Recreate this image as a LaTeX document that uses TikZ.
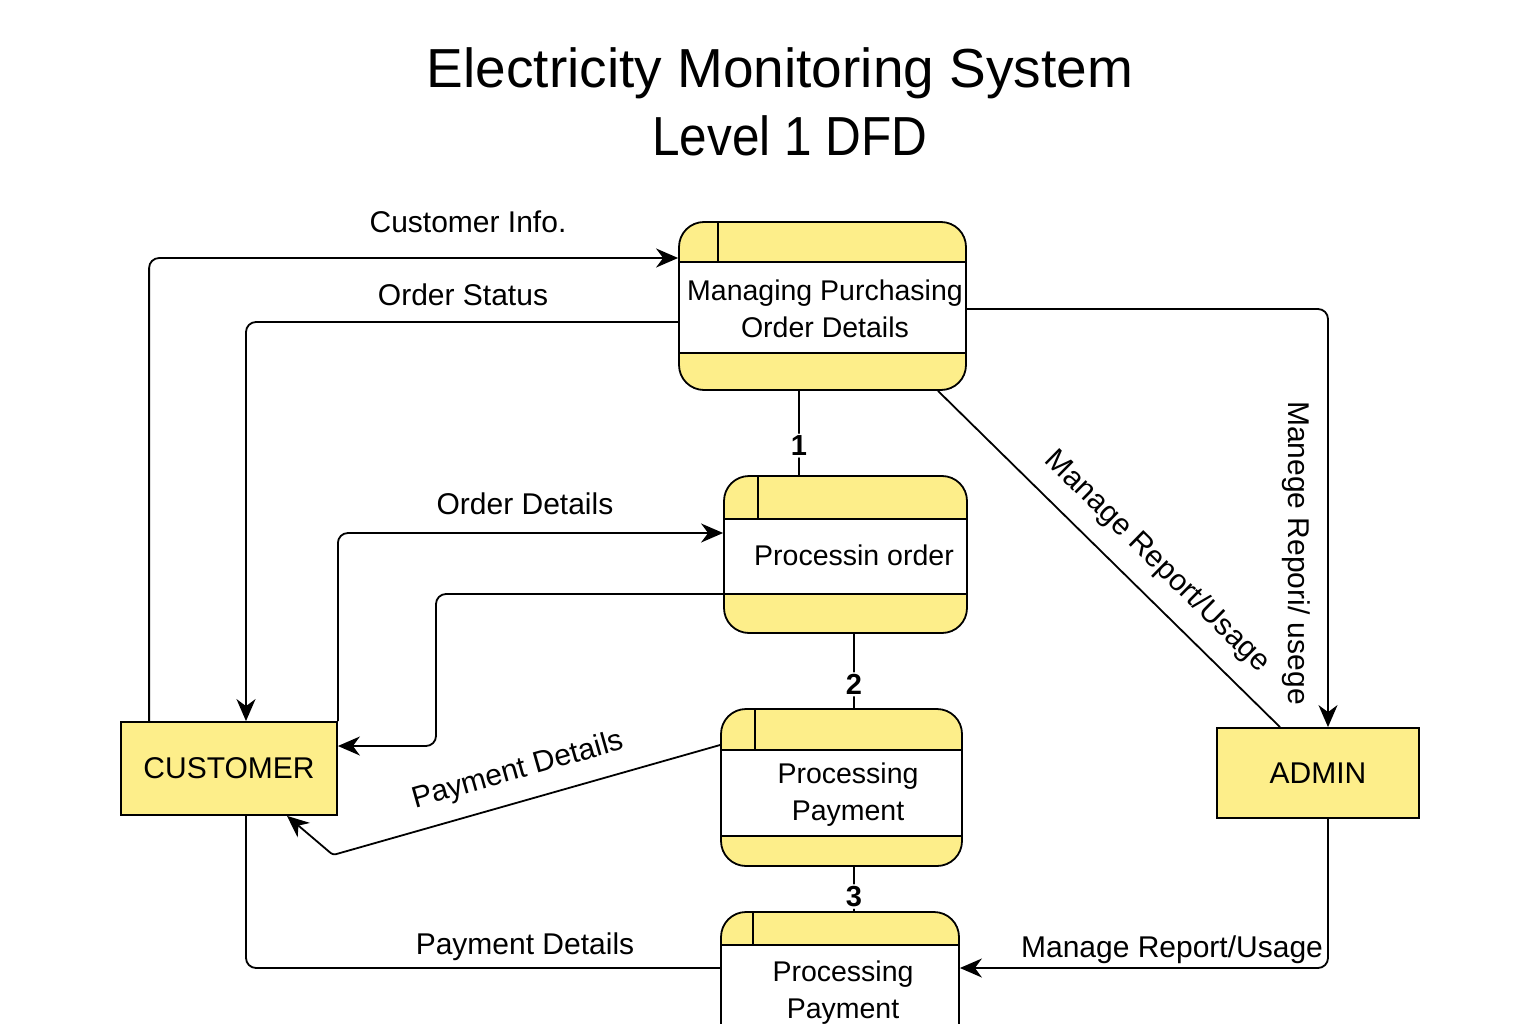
\documentclass[tikz,border=0pt]{standalone}
\usepackage{fontspec}
\setmainfont{Liberation Sans}
\usetikzlibrary{arrows.meta}

\definecolor{dfdyellow}{RGB}{253,238,138}

\begin{document}
\begin{tikzpicture}[x=1pt,y=-1pt,
entity/.style ={rectangle, draw=black, line width=1.8pt, fill=dfdyellow,
  font=\fontsize{30}{36}\selectfont
},
proc/.style ={rectangle, draw=black, line width=1.8pt, fill=dfdyellow,
  rounded corners=25pt
},
band/.style ={draw=black, line width=1.8pt, fill=white},
ptext/.style ={align=center, font=\fontsize{28.5}{37}\selectfont},
flow/.style ={draw=black, line width=1.8pt, rounded corners=10pt},
arr/.style ={-{Stealth[length=22pt,width=19pt,inset=7pt]}},
lbl/.style ={font=\fontsize{30}{36}\selectfont},
num/.style ={fill=white, inner sep=2pt, font=\bfseries\fontsize{29}{32}\selectfont}
]
\path[clip] (0,0) rectangle (1536,1024);
\useasboundingbox (0,0) rectangle (1536,1024);

% title
\node (title1) at (780,73) [font=\fontsize{55}{63}\selectfont] {Electricity Monitoring System};
\node (title2) at (790,136) [xscale=0.9, font=\fontsize{55}{63}\selectfont] {Level 1 DFD};

% processes
\node (p1) at (822.5,306) [proc, minimum width=287pt, minimum height=168pt] {};
\draw[band] (679,262) rectangle (966,353);
\draw[line width=1.8pt] (718,222) -- (718,262);
\node (t1) at (825,309) [ptext] {Managing Purchasing\\Order Details};

\node (p2) at (845.5,554.5) [proc, minimum width=243pt, minimum height=157pt] {};
\draw[band] (724,519) rectangle (967,594);
\draw[line width=1.8pt] (758,476) -- (758,519);
\node (t2) at (854,555) [ptext] {Processin order};

\node (p3) at (841.5,787.5) [proc, minimum width=241pt, minimum height=157pt] {};
\draw[band] (721,750) rectangle (962,836);
\draw[line width=1.8pt] (755,709) -- (755,750);
\node (t3) at (848,795) [ptext] {Processing\\Payment};

\node (p4) at (840,991) [proc, minimum width=238pt, minimum height=158pt] {};
\draw[band] (721,945) rectangle (959,1040);
\draw[line width=1.8pt] (753,912) -- (753,945);
\node (t4) at (843,993) [ptext] {Processing\\Payment};

% external entities
\node (cust) at (229,768.5) [entity, minimum width=216pt, minimum height=93pt] {CUSTOMER};
\node (admin) at (1318,773) [entity, minimum width=202pt, minimum height=90pt] {ADMIN};

% data flows
\draw[flow,arr] ([xshift=29pt]cust.north west) |- ([yshift=48pt]p1.west);
\draw[flow,arr] ([yshift=-16pt]p1.west) -| ([xshift=17pt]cust.north);
\draw[flow,arr] (cust.north east) |- ([yshift=21.5pt]p2.west);
\draw[flow,arr] ([yshift=-39.5pt]p2.west) -| (436,746) -- ([yshift=22.5pt]cust.east);
\draw[flow,arr,rounded corners=3pt] ([yshift=42.5pt]p3.west) -- (333,855) -- ([xshift=58pt]cust.south);
\draw[flow] ([xshift=17pt]cust.south) |- ([yshift=23pt]p4.west);
\draw[flow,arr] ([yshift=-3pt]p1.east) -| ([xshift=10pt]admin.north);
\draw[flow] ([xshift=115.5pt]p1.south) -- ([xshift=-38pt]admin.north);
\draw[flow,arr] ([xshift=10pt]admin.south) |- ([yshift=23pt]p4.east);

% process links
\draw[flow] ([xshift=-23.5pt]p1.south) -- node[num, pos=0.65] (n1) {1} ([xshift=-46.5pt]p2.north);
\draw[flow] ([xshift=8.5pt]p2.south) -- node[num, pos=0.68] (n2) {2} ([xshift=12.5pt]p3.north);
\draw[flow] ([xshift=12.5pt]p3.south) -- node[num, pos=0.67] (n3) {3} ([xshift=14pt]p4.north);

% flow labels
\node (l1) at (468,222) [lbl] {Customer Info.};
\node (l2) at (463,295) [lbl] {Order Status};
\node (l3) at (525,504) [lbl] {Order Details};
\node (l4) at (518,771) [lbl, rotate=15.8] {Payment Details};
\node (l5) at (525,947) [lbl] {Payment Details};
\node (l6) at (1157,562) [lbl, rotate=-44.5] {Manage Report/Usage};
\node (l7) at (1296,553) [lbl, rotate=-90] {Manege Repori/ usege};
\node (l8) at (1172,950) [lbl] {Manage Report/Usage};
\end{tikzpicture}
\end{document}
